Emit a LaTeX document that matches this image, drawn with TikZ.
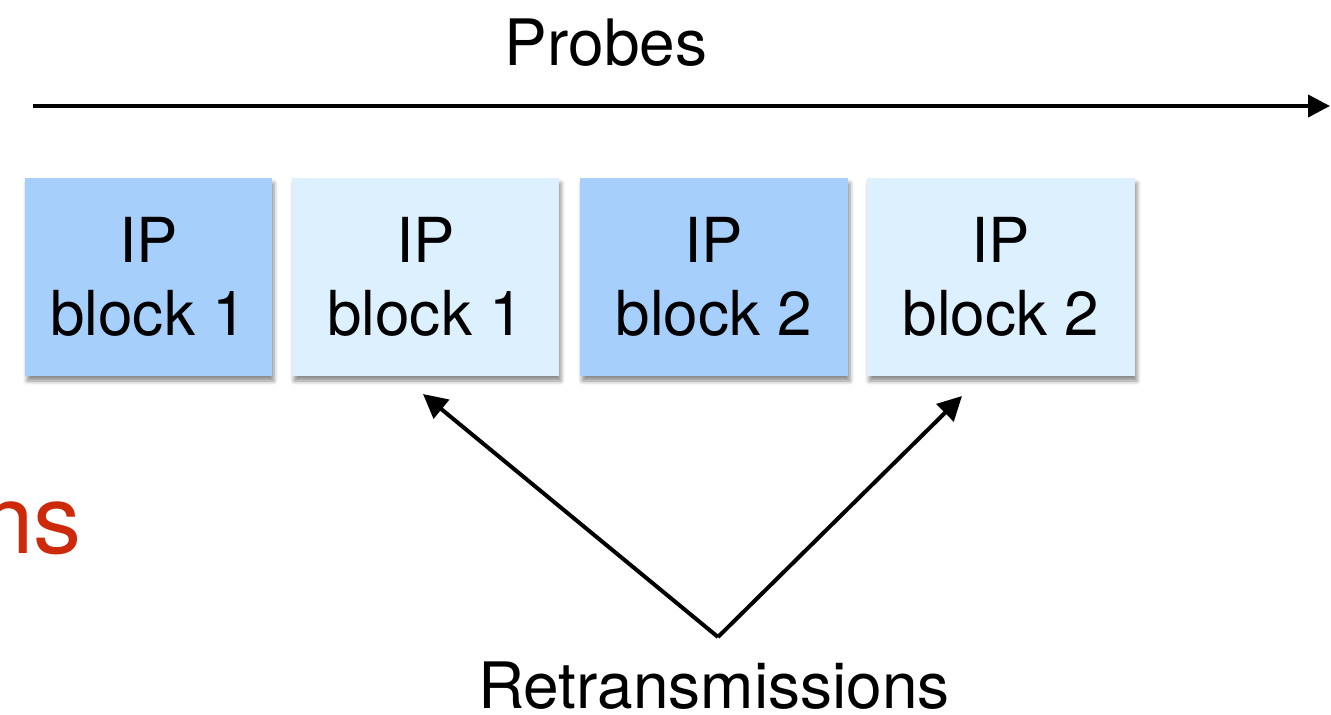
\documentclass[tikz,border=0pt]{standalone}
\usepackage{fontspec}
\setmainfont{TeX Gyre Heros}
\usetikzlibrary{arrows.meta,shadows.blur}
\definecolor{darkblk}{HTML}{A6CFFC}
\definecolor{lightblk}{HTML}{DCF1FD}
\definecolor{redtxt}{HTML}{CC2A0A}
\newcommand\boxfont{\fontsize{62}{73}\selectfont}
\newcommand\labfont{\fontsize{64}{70}\selectfont}
\tikzset{
  ipbox/.style={draw=none, minimum height=198pt, inner sep=0pt, align=center,
    font=\boxfont, text=black,
    blur shadow={shadow xshift=2pt, shadow yshift=-5pt, shadow blur radius=4pt, shadow opacity=45}},
  conn/.style={line width=4pt, -{Triangle[length=24pt,width=24pt]}},
}
\begin{document}
\begin{tikzpicture}[x=1pt,y=-1pt]
\useasboundingbox (0,0) rectangle (1331,715);
\node[ipbox, fill=darkblk, minimum width=247pt] (b1) at (148.5,277) {IP\\block 1};
\node[ipbox, fill=lightblk, minimum width=267pt] (b2) at (425.5,277) {IP\\block 1};
\node[ipbox, fill=darkblk, minimum width=268pt] (b3) at (714,277) {IP\\block 2};
\node[ipbox, fill=lightblk, minimum width=268pt] (b4) at (1001,277) {IP\\block 2};
\node[anchor=base, font=\labfont, inner sep=0pt] (probes) at (606,65) {Probes};
\coordinate (pstart) at (33,106);
\coordinate (pend) at (1330,106);
\draw[line width=4pt, -{Triangle[length=22pt,width=22pt]}] (pstart) -- (pend);
\node[anchor=base east, font=\fontsize{96}{100}\selectfont, text=redtxt, inner sep=0pt] (ns) at (82,553) {ns};
\node[anchor=base, font=\labfont, inner sep=0pt] (retx) at (714,708) {Retransmissions};
\coordinate (apex) at (718,637);
\coordinate (t1) at (423,394);
\coordinate (t2) at (962,396);
\draw[conn] (apex) -- (t1);
\draw[conn] (apex) -- (t2);
\end{tikzpicture}
\end{document}
